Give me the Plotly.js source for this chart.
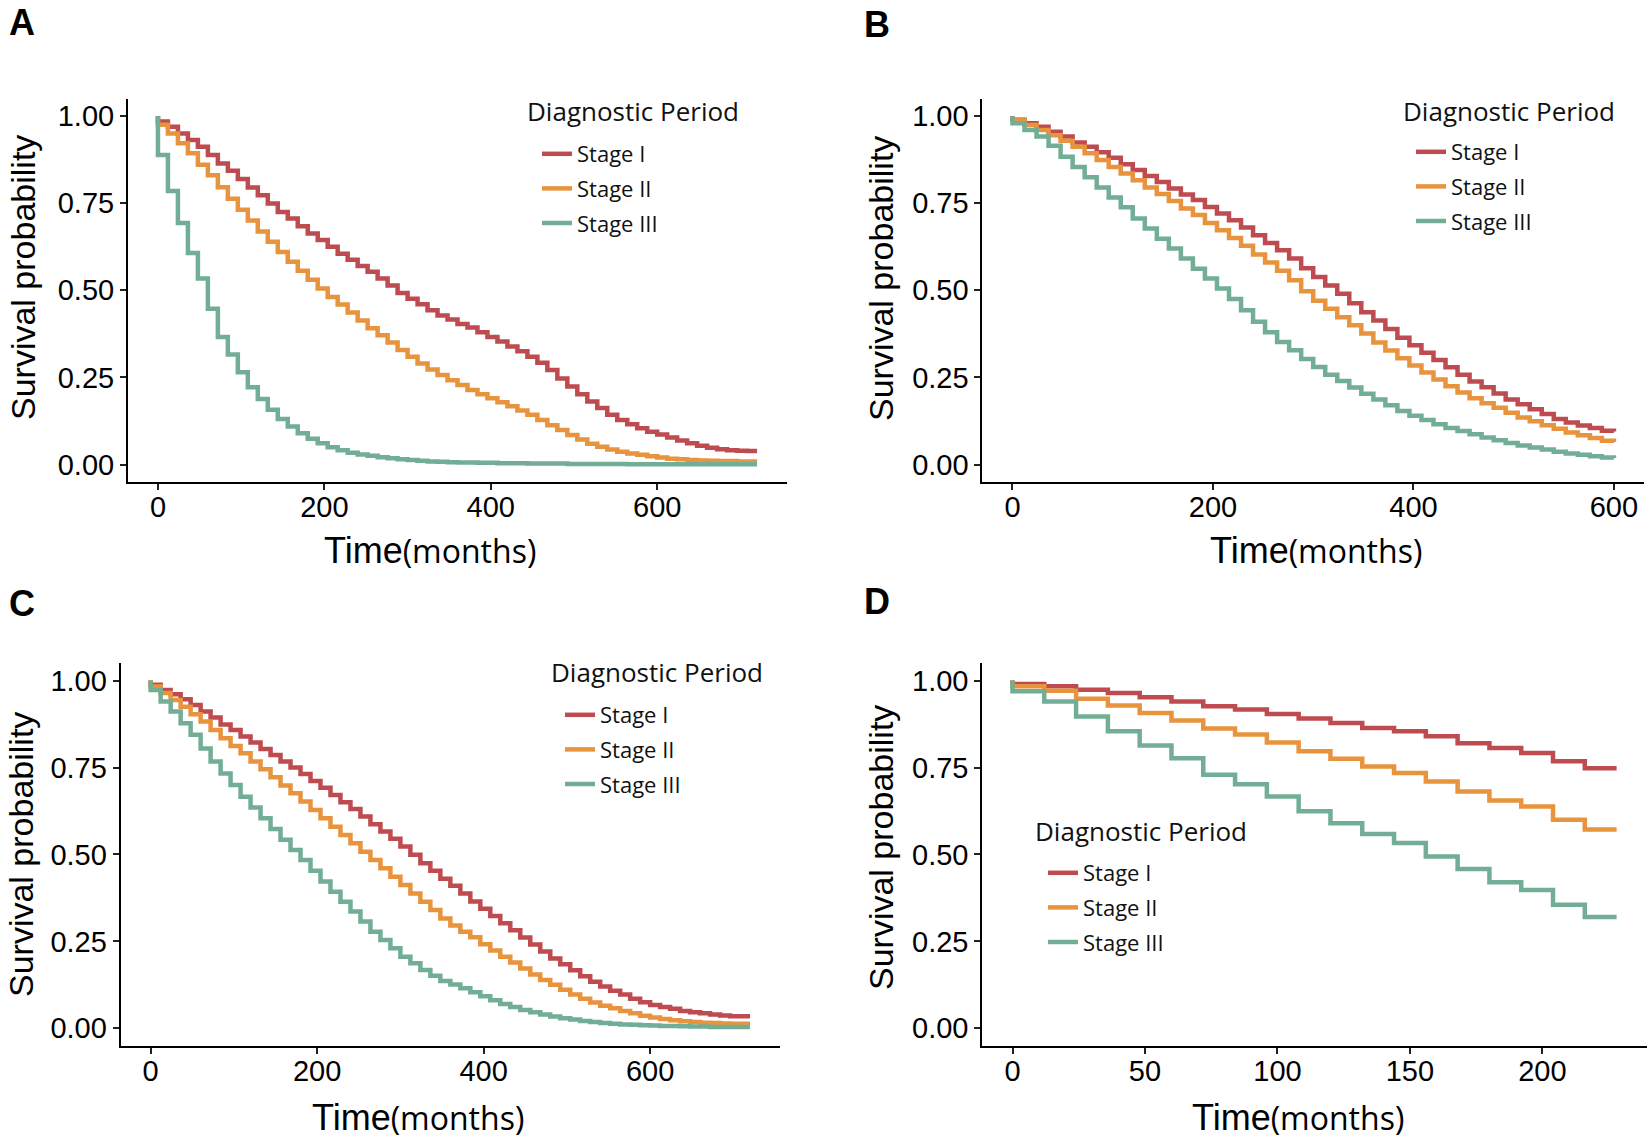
<!DOCTYPE html>
<html>
<head>
<meta charset="utf-8">
<script src="https://cdn.plot.ly/plotly-3.0.1.min.js"></script>
<style>
  html, body { margin: 0; padding: 0; background: #fff; }
  #chart { width: 1652px; height: 1141px; }
</style>
</head>
<body>
<div id="chart"></div>
<script>
// ---------------- data (survival probability at the start of each 12-month step) ----------------
const stageNames = ["Stage I", "Stage II", "Stage III"];
const stageColors = ["#BE4B4F", "#E8933D", "#72AE95"];

const monthsAC = [0,12,24,36,48,60,72,84,96,108,120,132,144,156,168,180,192,204,216,228,240,252,264,276,288,300,312,324,336,348,360,372,384,396,408,420,432,444,456,468,480,492,504,516,528,540,552,564,576,588,600,612,624,636,648,660,672,684,696,708,720];
const monthsB = [0,12,24,36,48,60,72,84,96,108,120,132,144,156,168,180,192,204,216,228,240,252,264,276,288,300,312,324,336,348,360,372,384,396,408,420,432,444,456,468,480,492,504,516,528,540,552,564,576,588,600];
const monthsD = [0,12,24,36,48,60,72,84,96,108,120,132,144,156,168,180,192,204,216,228];

// Panel A
const survA_I = [0.984,0.969,0.950,0.931,0.912,0.888,0.864,0.843,0.819,0.795,
  0.773,0.749,0.725,0.706,0.684,0.663,0.644,0.625,0.605,0.588,
  0.570,0.553,0.534,0.514,0.492,0.476,0.460,0.443,0.428,0.416,
  0.403,0.393,0.380,0.366,0.353,0.339,0.325,0.309,0.292,0.271,
  0.247,0.224,0.202,0.181,0.162,0.143,0.128,0.116,0.104,0.094,
  0.086,0.078,0.069,0.061,0.054,0.048,0.044,0.041,0.040,0.039,0.039];
const survA_II = [0.975,0.950,0.922,0.893,0.860,0.830,0.796,0.763,0.731,0.700,
  0.669,0.639,0.610,0.582,0.556,0.530,0.505,0.481,0.459,0.436,
  0.413,0.391,0.371,0.350,0.329,0.309,0.290,0.273,0.257,0.242,
  0.228,0.214,0.202,0.190,0.179,0.167,0.155,0.143,0.128,0.113,
  0.099,0.085,0.072,0.060,0.051,0.043,0.037,0.032,0.028,0.024,
  0.020,0.017,0.015,0.013,0.012,0.011,0.010,0.010,0.009,0.009,0.009];
const survA_III = [0.888,0.785,0.693,0.607,0.534,0.447,0.366,0.316,0.265,0.222,
  0.188,0.157,0.131,0.109,0.090,0.074,0.061,0.050,0.041,0.034,
  0.029,0.025,0.021,0.018,0.015,0.013,0.011,0.009,0.008,0.007,
  0.006,0.006,0.005,0.005,0.004,0.004,0.004,0.003,0.003,0.003,
  0.003,0.002,0.002,0.002,0.002,0.002,0.002,0.001,0.001,0.001,
  0.001,0.001,0.001,0.001,0.001,0.001,0.001,0.001,0.001,0.001,0.001];

// Panel B
const survB_I = [0.989,0.979,0.969,0.955,0.941,0.924,0.912,0.896,0.880,0.862,
  0.845,0.828,0.811,0.792,0.775,0.759,0.739,0.720,0.701,0.680,
  0.658,0.636,0.615,0.591,0.563,0.538,0.514,0.490,0.463,0.437,
  0.413,0.389,0.364,0.342,0.321,0.300,0.279,0.258,0.238,0.222,
  0.204,0.187,0.173,0.159,0.145,0.131,0.121,0.112,0.105,0.097,0.095];
const survB_II = [0.989,0.974,0.960,0.945,0.929,0.912,0.893,0.874,0.854,0.835,
  0.816,0.795,0.776,0.756,0.735,0.716,0.693,0.672,0.650,0.628,
  0.603,0.580,0.556,0.529,0.497,0.470,0.447,0.423,0.400,0.376,
  0.350,0.327,0.305,0.284,0.264,0.244,0.225,0.207,0.190,0.176,
  0.163,0.149,0.135,0.124,0.113,0.103,0.092,0.084,0.076,0.068,0.065];
const survB_III = [0.979,0.960,0.941,0.915,0.883,0.854,0.824,0.795,0.766,0.738,
  0.706,0.677,0.648,0.620,0.591,0.562,0.534,0.505,0.475,0.443,
  0.410,0.380,0.352,0.328,0.303,0.280,0.258,0.240,0.221,0.203,
  0.187,0.170,0.154,0.140,0.128,0.116,0.105,0.096,0.087,0.078,
  0.070,0.062,0.055,0.049,0.043,0.037,0.032,0.028,0.024,0.020,0.019];

// Panel C
const survC_I = [0.988,0.973,0.961,0.946,0.930,0.911,0.894,0.874,0.858,0.839,
  0.822,0.803,0.786,0.767,0.750,0.731,0.711,0.692,0.671,0.650,
  0.631,0.609,0.587,0.566,0.545,0.523,0.499,0.475,0.453,0.430,
  0.410,0.388,0.365,0.344,0.323,0.302,0.282,0.261,0.241,0.221,
  0.201,0.184,0.167,0.150,0.134,0.120,0.108,0.097,0.085,0.075,
  0.067,0.061,0.056,0.050,0.046,0.043,0.040,0.037,0.035,0.035,0.035];
const survC_II = [0.983,0.964,0.944,0.925,0.903,0.882,0.858,0.834,0.812,0.791,
  0.767,0.745,0.722,0.698,0.676,0.652,0.628,0.604,0.580,0.556,
  0.532,0.508,0.484,0.460,0.436,0.412,0.388,0.364,0.340,0.316,
  0.296,0.278,0.262,0.242,0.224,0.206,0.189,0.172,0.155,0.139,
  0.125,0.111,0.097,0.085,0.074,0.065,0.058,0.050,0.043,0.036,
  0.031,0.027,0.023,0.020,0.018,0.016,0.015,0.014,0.013,0.013,0.013];
const survC_III = [0.973,0.940,0.911,0.877,0.844,0.805,0.767,0.733,0.700,0.666,
  0.635,0.604,0.573,0.542,0.513,0.484,0.453,0.422,0.393,0.364,
  0.336,0.307,0.278,0.254,0.230,0.206,0.187,0.168,0.151,0.136,
  0.126,0.115,0.104,0.092,0.081,0.070,0.061,0.053,0.046,0.040,
  0.034,0.029,0.025,0.021,0.018,0.015,0.013,0.011,0.010,0.009,
  0.008,0.007,0.007,0.006,0.005,0.005,0.004,0.004,0.004,0.004,0.004];

// Panel D
const survD_I = [0.990,0.984,0.974,0.964,0.952,0.940,0.926,0.917,0.904,0.891,0.878,0.864,0.854,0.840,0.820,0.806,0.792,0.768,0.748,0.748];
const survD_II = [0.984,0.971,0.948,0.928,0.907,0.885,0.862,0.845,0.822,0.797,0.775,0.753,0.734,0.710,0.681,0.655,0.638,0.600,0.572,0.572];
const survD_III = [0.969,0.940,0.897,0.854,0.813,0.777,0.729,0.702,0.667,0.624,0.590,0.559,0.533,0.494,0.458,0.420,0.398,0.355,0.320,0.320];

const yTickVals = [0, 0.25, 0.5, 0.75, 1];
const yTickText = ["0.00", "0.25", "0.50", "0.75", "1.00"];
const xTickVals720 = [0, 200, 400, 600];
const xTickValsD = [0, 50, 100, 150, 200];
const legendTitle = "Diagnostic Period";
const yTitle = "Survival probability";
const panelLetters = ["A", "B", "C", "D"];

// ---------------- figure ----------------
const W = 1652, H = 1141;
const px = v => v / W;
const py = v => 1 - v / H;

const panels = [
  {sfx: "",  months: monthsAC, surv: [survA_I, survA_II, survA_III], legend: "legend",
   xdom: [128/W, 787/W], ydom: [1-482/H, 1-98.6/H], xrange: [-36, 756], xticks: xTickVals720},
  {sfx: "2", months: monthsB,  surv: [survB_I, survB_II, survB_III], legend: "legend2",
   xdom: [982.4/W, 1644/W], ydom: [1-482/H, 1-98.6/H], xrange: [-30, 630], xticks: xTickVals720},
  {sfx: "3", months: monthsAC, surv: [survC_I, survC_II, survC_III], legend: "legend3",
   xdom: [120.7/W, 780/W], ydom: [1-1045.7/H, 1-663.2/H], xrange: [-36, 756], xticks: xTickVals720},
  {sfx: "4", months: monthsD,  surv: [survD_I, survD_II, survD_III], legend: "legend4",
   xdom: [982.3/W, 1646.8/W], ydom: [1-1045.7/H, 1-663.2/H], xrange: [-11.4, 239.4], xticks: xTickValsD}
];

const traces = [];
panels.forEach((p, k) => {
  p.surv.forEach((s, i) => {
    traces.push({
      type: "scatter", mode: "lines",
      x: [0].concat(p.months), y: [1].concat(s),
      xaxis: "x" + p.sfx, yaxis: "y" + p.sfx,
      name: stageNames[i], legend: p.legend, legendgroup: "p" + k + "s" + i,
      line: {shape: "hv", color: stageColors[i], width: 4.5},
      hoverinfo: "skip"
    });
  });
});

const tickFont = {family: "Liberation Sans, Arial, sans-serif", size: 29, color: "#000"};
const axisBase = {
  showline: true, linecolor: "#000", linewidth: 2,
  ticks: "outside", ticklen: 6, tickwidth: 1.6, tickcolor: "#222",
  showgrid: false, zeroline: false, tickfont: tickFont, fixedrange: true
};

const layout = {
  width: W, height: H,
  margin: {l: 0, r: 0, t: 0, b: 0},
  paper_bgcolor: "#fff", plot_bgcolor: "#fff",
  showlegend: true,
  annotations: [],
  font: {family: "Liberation Sans, Arial, sans-serif", color: "#000"}
};

panels.forEach(p => {
  layout["xaxis" + p.sfx] = Object.assign({}, axisBase, {
    domain: p.xdom, range: p.xrange, tickvals: p.xticks, anchor: "y" + p.sfx,
    ticklabelstandoff: -8
  });
  layout["yaxis" + p.sfx] = Object.assign({}, axisBase, {
    domain: p.ydom, range: [-0.05, 1.05], tickvals: yTickVals, ticktext: yTickText, anchor: "x" + p.sfx
  });
});

// legends (items only; title is a separate text)
const legendFont = {family: "Open Sans, Noto Sans, sans-serif", size: 22, color: "#111"};
const legendPos = [[537, 133], [1411, 131], [560, 694], [1043, 852]];
["legend", "legend2", "legend3", "legend4"].forEach((id, k) => {
  layout[id] = {
    x: px(legendPos[k][0]), xanchor: "left", xref: "paper",
    y: py(legendPos[k][1]), yanchor: "top", yref: "paper",
    font: legendFont, bgcolor: "rgba(0,0,0,0)", borderwidth: 0,
    tracegroupgap: 3, itemwidth: 30, traceorder: "grouped"
  };
});

const legendTitlePos = [[525, 111], [1401, 111], [549, 672], [1033, 831]];
legendTitlePos.forEach(([x, y]) => {
  layout.annotations.push({
    text: legendTitle, xref: "paper", yref: "paper", x: px(x), y: py(y),
    xanchor: "left", yanchor: "middle", showarrow: false,
    font: {family: "Open Sans, Noto Sans, sans-serif", size: 26, color: "#111"}
  });
});

const letterPos = [[22, 22], [877, 24], [22, 603], [877, 601]];
letterPos.forEach(([x, y], k) => {
  layout.annotations.push({
    text: "<b>" + panelLetters[k] + "</b>", xref: "paper", yref: "paper", x: px(x), y: py(y),
    xanchor: "center", yanchor: "middle", showarrow: false,
    font: {family: "Liberation Sans, Arial, sans-serif", size: 36, color: "#000"}
  });
});

const yTitlePos = [[23, 278], [881, 278], [21, 855], [881, 847]];
yTitlePos.forEach(([x, y]) => {
  layout.annotations.push({
    text: yTitle, xref: "paper", yref: "paper", x: px(x), y: py(y),
    xanchor: "center", yanchor: "middle", showarrow: false, textangle: -90,
    font: {family: "Liberation Sans, Arial, sans-serif", size: 34, color: "#000"}
  });
});

const xTitleText = "Time<span style=\"font-family:'Open Sans';font-size:32px\">(months)</span>";
const xTitlePos = [[430, 550], [1316, 550], [418, 1117], [1298, 1117]];
xTitlePos.forEach(([x, y]) => {
  layout.annotations.push({
    text: xTitleText, xref: "paper", yref: "paper", x: px(x), y: py(y),
    xanchor: "center", yanchor: "middle", showarrow: false,
    font: {family: "Liberation Sans, Arial, sans-serif", size: 36, color: "#000"}
  });
});

Plotly.newPlot("chart", traces, layout, {displayModeBar: false, responsive: false});
</script>
</body>
</html>
